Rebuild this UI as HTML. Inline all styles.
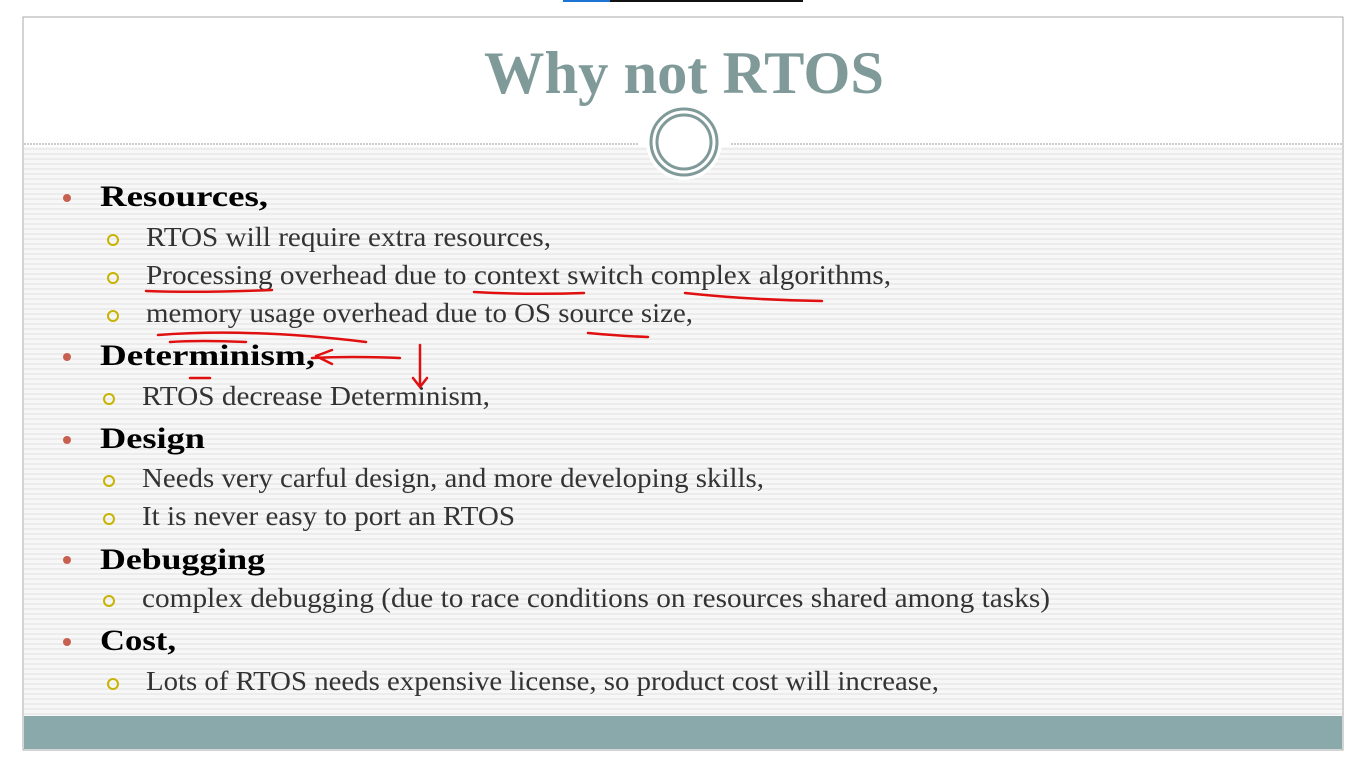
<!DOCTYPE html>
<html><head><meta charset="utf-8"><style>
html,body{margin:0;padding:0;width:1366px;height:768px;background:#fff;overflow:hidden}
svg{display:block}
</style></head><body>
<svg width="1366" height="768" font-family="'Liberation Serif', serif">
<defs>
<pattern id="stripes" width="4" height="5" patternUnits="userSpaceOnUse">
<rect width="4" height="5" fill="#f7f7f7"/><rect y="3" width="4" height="2" fill="#ececec"/>
</pattern>
</defs>
<rect x="563" y="0" width="47" height="2" fill="#1e73d6"/>
<rect x="610" y="0" width="193" height="2" fill="#111"/>
<rect x="23" y="17" width="1320" height="733" fill="#fff" stroke="#aaa"/>
<rect x="24" y="147" width="1318" height="569" fill="url(#stripes)"/>
<rect x="24" y="716" width="1318" height="33" fill="#8aa9aa"/>
<line x1="24" y1="144" x2="638" y2="144" stroke="#999" stroke-dasharray="2,1"/>
<line x1="731" y1="144" x2="1342" y2="144" stroke="#999" stroke-dasharray="2,1"/>
<circle cx="684" cy="142" r="38" fill="#fff"/>
<circle cx="684" cy="142" r="33" fill="none" stroke="#7f9a99" stroke-width="3"/>
<circle cx="684" cy="142" r="27" fill="none" stroke="#7f9a99" stroke-width="3"/>
<text x="484" y="93" font-size="60" font-weight="bold" fill="#7f9a99" textLength="400" lengthAdjust="spacingAndGlyphs">Why not RTOS</text>

<g fill="#c8604f">
<circle cx="67" cy="198" r="4"/><circle cx="67" cy="357" r="4"/><circle cx="67" cy="440" r="4"/><circle cx="67" cy="560" r="4"/><circle cx="67" cy="642" r="4"/>
</g>
<g fill="none" stroke="#c8b400" stroke-width="2">
<circle cx="113" cy="240" r="5"/><circle cx="113" cy="278" r="5"/><circle cx="113" cy="316" r="5"/><circle cx="109" cy="399" r="5"/><circle cx="109" cy="481" r="5"/><circle cx="109" cy="519" r="5"/><circle cx="109" cy="601" r="5"/><circle cx="113" cy="684" r="5"/>
</g>

<g font-weight="bold" font-size="30" fill="#000">
<text x="100" y="206" textLength="168" lengthAdjust="spacingAndGlyphs">Resources,</text>
<text x="100" y="365" textLength="215" lengthAdjust="spacingAndGlyphs">Determinism,</text>
<text x="100" y="448" textLength="105" lengthAdjust="spacingAndGlyphs">Design</text>
<text x="100" y="569" textLength="165" lengthAdjust="spacingAndGlyphs">Debugging</text>
<text x="100" y="650" textLength="76" lengthAdjust="spacingAndGlyphs">Cost,</text>
</g>
<g font-size="27" fill="#333">
<text x="146" y="246" textLength="405" lengthAdjust="spacingAndGlyphs">RTOS will require extra resources,</text>
<text x="146" y="284" textLength="745" lengthAdjust="spacingAndGlyphs">Processing overhead due to context switch complex algorithms,</text>
<text x="146" y="322" textLength="547" lengthAdjust="spacingAndGlyphs">memory usage overhead due to OS source size,</text>
<text x="142" y="405" textLength="348" lengthAdjust="spacingAndGlyphs">RTOS decrease Determinism,</text>
<text x="142" y="487" textLength="622" lengthAdjust="spacingAndGlyphs">Needs very carful design, and more developing skills,</text>
<text x="142" y="525" textLength="373" lengthAdjust="spacingAndGlyphs">It is never easy to port an RTOS</text>
<text x="142" y="607" textLength="908" lengthAdjust="spacingAndGlyphs">complex debugging (due to race conditions on resources shared among tasks)</text>
<text x="146" y="690" textLength="793" lengthAdjust="spacingAndGlyphs">Lots of RTOS needs expensive license, so product cost will increase,</text>
</g>

<g fill="none" stroke="#e01010" stroke-width="2.5" stroke-linecap="round">
<path d="M146 291 Q200 293 272 290"/>
<path d="M474 292 Q530 295 584 293"/>
<path d="M685 293 Q750 300 822 301"/>
<path d="M158 335 Q250 328 366 342"/>
<path d="M170 342 Q200 340 246 342"/>
<path d="M588 333 Q620 336 648 337"/>
<path d="M190 378 L210 378"/>
<path d="M312 358 Q350 356 400 358"/>
<path d="M316 356 L332 350 M316 356 L332 364"/>
<path d="M420 345 L420 387 M413 378 L420 387 L427 378"/>
</g>
</svg>
</body></html>
